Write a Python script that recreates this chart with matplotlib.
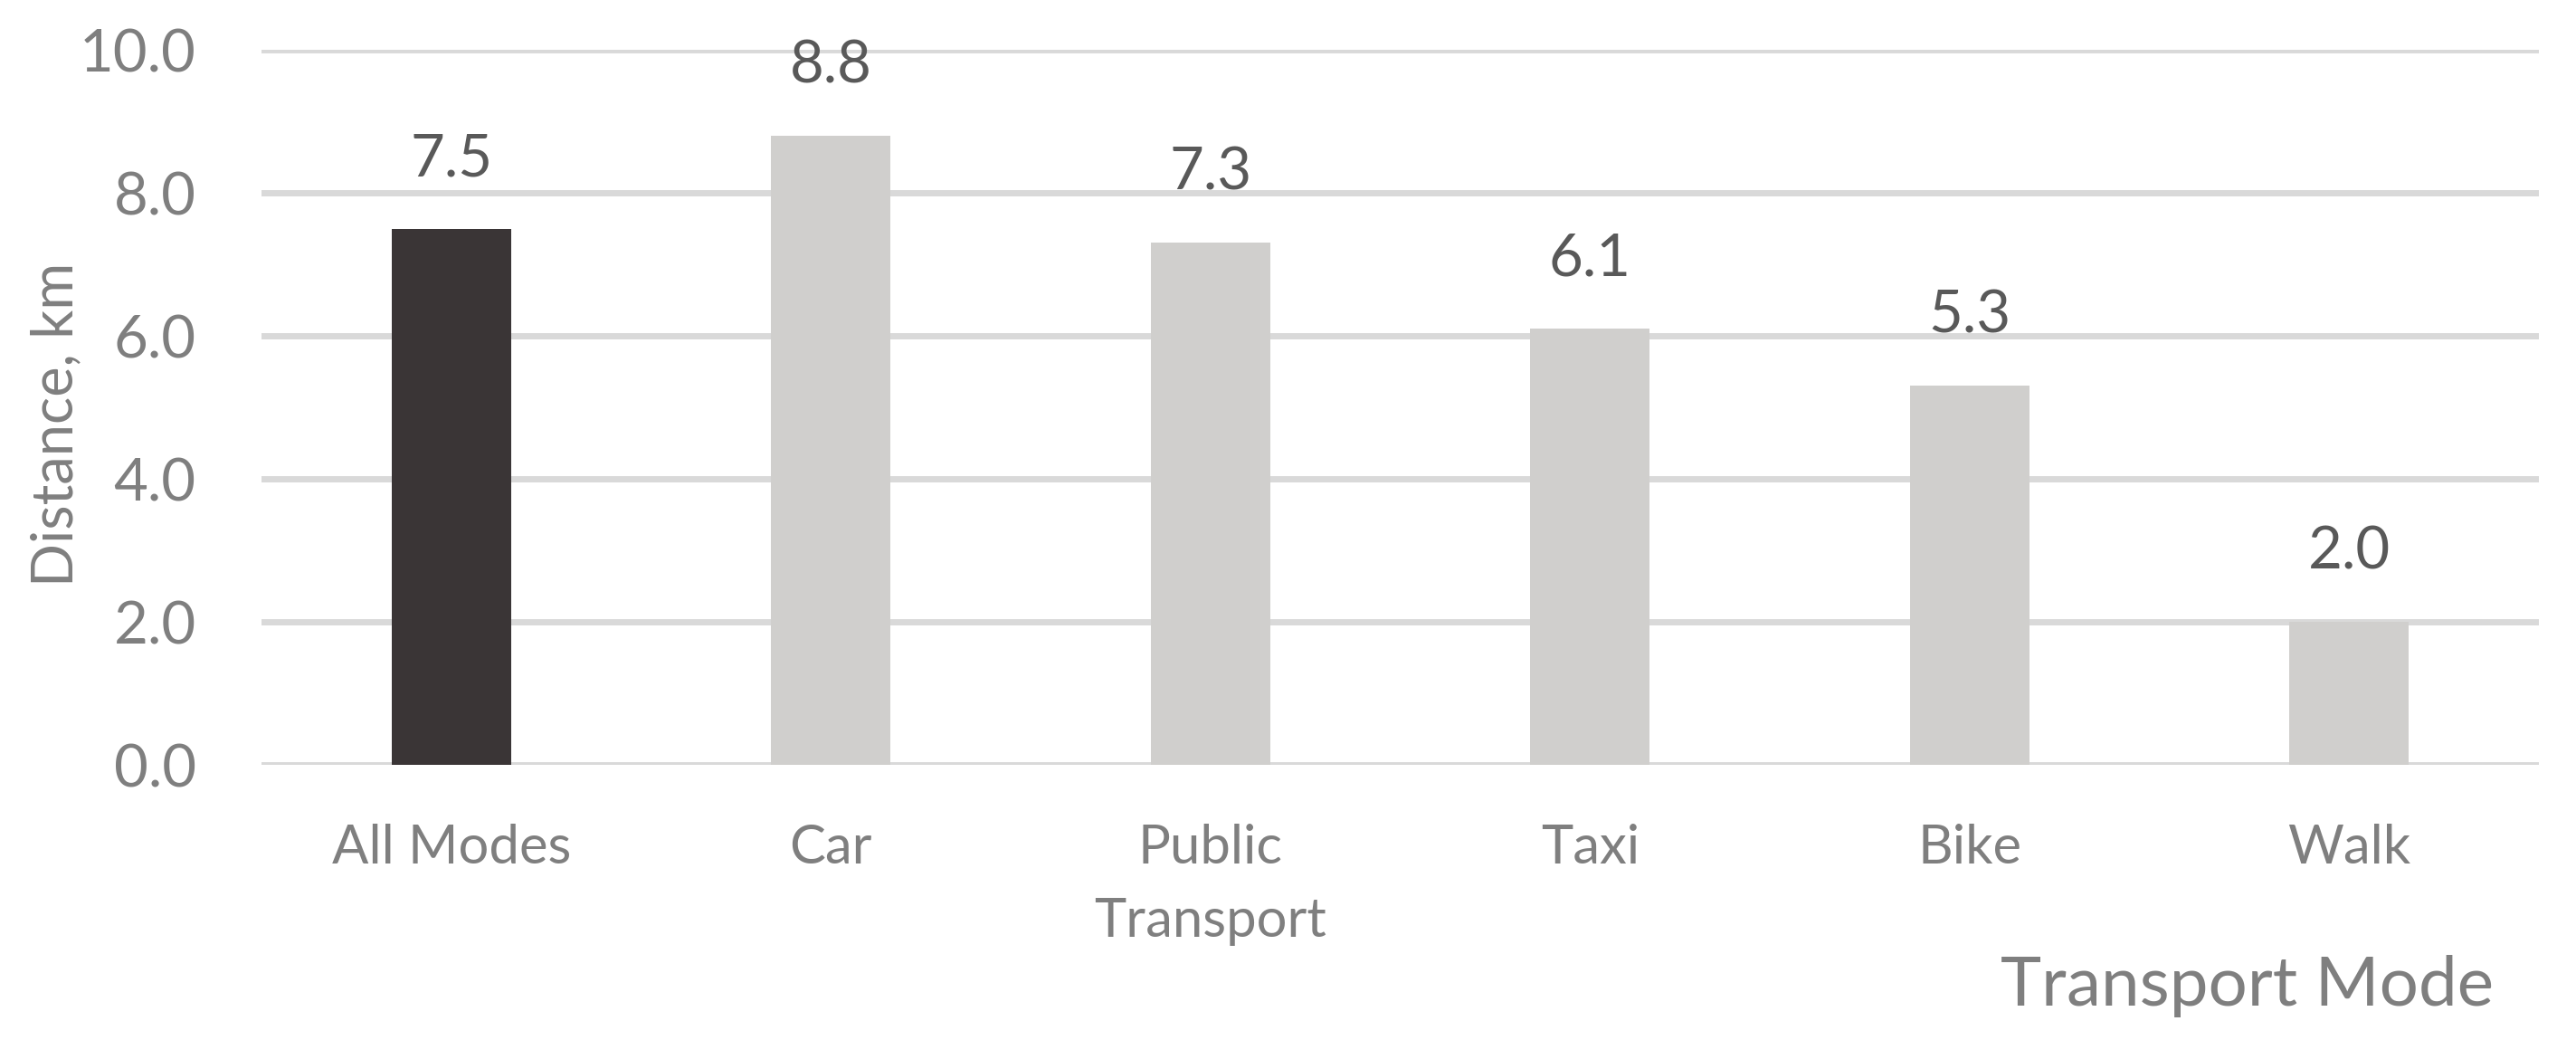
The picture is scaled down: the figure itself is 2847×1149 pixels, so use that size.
import matplotlib
matplotlib.use("Agg")
import matplotlib.pyplot as plt

plt.rcParams['font.family'] = ['Lato', 'DejaVu Sans']

# data
modes = ['All Modes', 'Car', 'Public\nTransport', 'Taxi', 'Bike', 'Walk']
distance_km = [7.5, 8.8, 7.3, 6.1, 5.3, 2.0]
bar_colors = ['#3a3536', '#d0cfcd', '#d0cfcd', '#d0cfcd', '#d0cfcd', '#d0cfcd']
y_ticks = [0, 2, 4, 6, 8, 10]

W, H, DPI = 2847, 1149, 100
fig = plt.figure(figsize=(W / DPI, H / DPI), dpi=DPI)
ax = fig.add_axes([289 / W, 1 - 845 / H, (2806 - 289) / W, (845 - 55) / H])

x = range(len(modes))
bars = ax.bar(x, distance_km, width=0.315, color=bar_colors, zorder=3)

for xi, v in zip(x, distance_km):
    ax.annotate('{:.1f}'.format(v), (xi, v), xytext=(0, 42), textcoords='offset points',
                ha='center', va='baseline', fontsize=47, color='#595959', zorder=4)

ax.set_xlim(-0.5, len(modes) - 0.5)
ax.set_ylim(0, 10)
ax.set_yticks(y_ticks)
ax.set_yticklabels(['{:.1f}'.format(t) for t in y_ticks])
ax.set_xticks(list(x))
ax.set_xticklabels(modes, linespacing=1.6)

ax.grid(axis='y', color='#d9d9d9', linewidth=5, zorder=0)
ax.set_axisbelow(True)
for s in ax.spines.values():
    s.set_visible(False)
ax.tick_params(axis='y', length=0, pad=52, labelsize=47, labelcolor='#7f7f7f')
ax.tick_params(axis='x', length=0, pad=47, labelsize=43, labelcolor='#7f7f7f')

fig.text(62 / W, 1 - 469 / H, 'Distance, km', rotation=90, ha='center', va='center',
         fontsize=45.5, color='#7f7f7f')
fig.text(2484 / W, 1 - 1111 / H, 'Transport Mode', ha='center', va='baseline',
         fontsize=55, color='#7f7f7f')

fig.savefig('out.png', dpi=DPI, facecolor='white')
